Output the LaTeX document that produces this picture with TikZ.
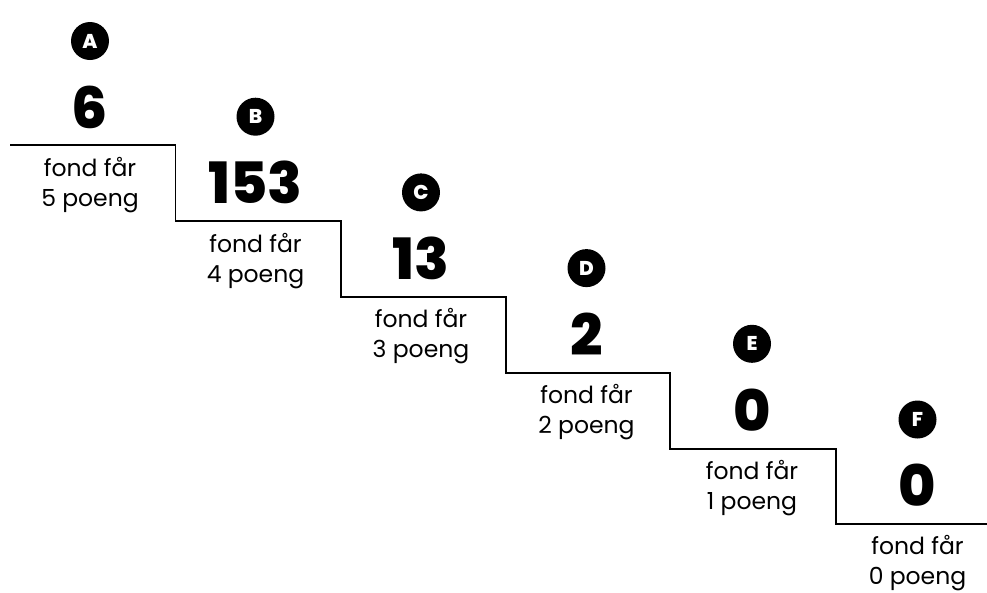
\documentclass[tikz,border=0pt]{standalone}
\usepackage{fontspec}
\setmainfont{Poppins}
\newfontfamily\numfont{Poppins}[UprightFont=* ExtraBold, BoldFont=* Black]
\begin{document}
\begin{tikzpicture}[x=1pt,y=-1pt,
  badge/.style={circle,fill=black,minimum size=38pt,inner sep=0pt,text=white,font=\numfont\fontsize{20}{20}\selectfont},
  bignum/.style={font=\numfont\fontsize{57}{57}\selectfont,inner sep=0pt},
  lbl/.style={font=\fontsize{23.5}{30}\selectfont,align=center,inner sep=0pt},
  stair/.style={line width=1.4pt}]
\useasboundingbox (0,0) rectangle (987,592);
\foreach \i/\L/\N/\P in {0/A/6/5,1/B/153/4,2/C/13/3,3/D/2/2,4/E/0/1,5/F/0/0}{
  \pgfmathsetmacro\cx{90+165.5*\i}
  \pgfmathsetmacro\cy{75.7*\i}
  \node[badge] (b\L) at (\cx,41+\cy) {\L};
  \node[bignum] (n\L) at (\cx,107+\cy) {\N};
  \node[lbl] (t\L) at (\cx,185+\cy) {fond får\\\P\ poeng};
}
\coordinate (s0) at (10,145);
\coordinate (s1) at (175.5,145);
\coordinate (s2) at (175.5,221);
\coordinate (s3) at (341,221);
\coordinate (s4) at (341,297);
\coordinate (s5) at (506,297);
\coordinate (s6) at (506,373);
\coordinate (s7) at (670,373);
\coordinate (s8) at (670,449);
\coordinate (s9) at (836,449);
\coordinate (s10) at (836,524);
\coordinate (s11) at (987,524);
\draw[stair] (s0)--(s1)--(s2)--(s3)--(s4)--(s5)--(s6)--(s7)--(s8)--(s9)--(s10)--(s11);
\end{tikzpicture}
\end{document}
